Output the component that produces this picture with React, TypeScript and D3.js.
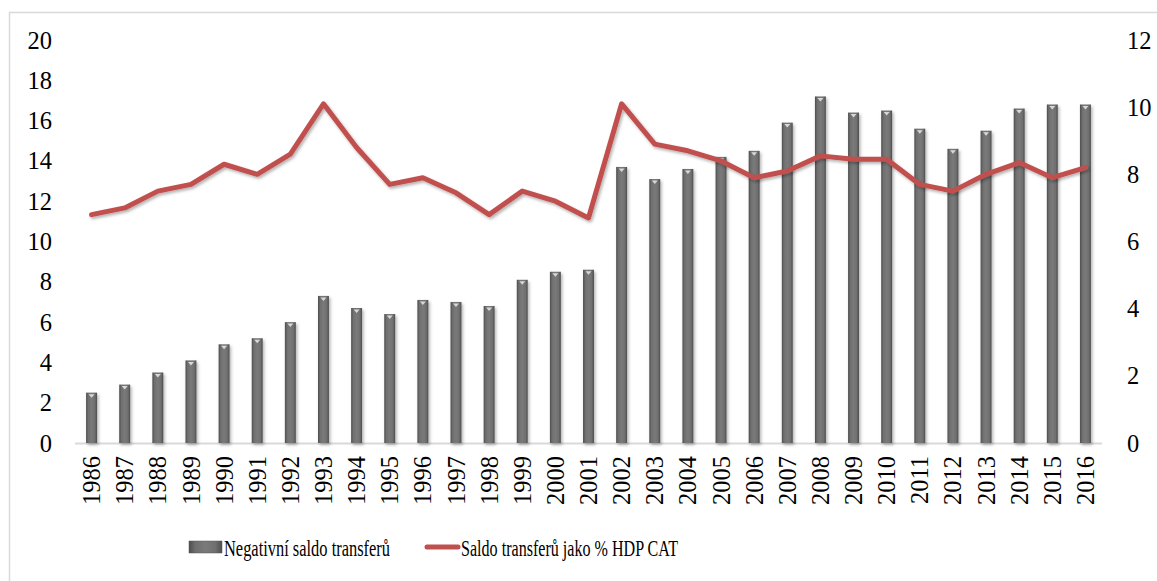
import React from 'react';
import * as d3 from 'd3';

const years = [
  '1986', '1987', '1988', '1989', '1990', '1991', '1992', '1993', '1994', '1995', '1996',
  '1997', '1998', '1999', '2000', '2001', '2002', '2003', '2004', '2005', '2006', '2007',
  '2008', '2009', '2010', '2011', '2012', '2013', '2014', '2015', '2016',
];

// Negativní saldo transferů (levá osa)
const saldo = [
  2.5, 2.9, 3.5, 4.1, 4.9, 5.2, 6.0, 7.3, 6.7, 6.4, 7.1,
  7.0, 6.8, 8.1, 8.5, 8.6, 13.7, 13.1, 13.6, 14.2, 14.5, 15.9,
  17.2, 16.4, 16.5, 15.6, 14.6, 15.5, 16.6, 16.8, 16.8,
];

// Saldo transferů jako % HDP CAT (pravá osa)
const saldoPct = [
  6.8, 7.0, 7.5, 7.7, 8.3, 8.0, 8.6, 10.1, 8.8, 7.7, 7.9,
  7.45, 6.8, 7.5, 7.2, 6.7, 10.1, 8.9, 8.7, 8.4, 7.9, 8.1,
  8.55, 8.45, 8.45, 7.7, 7.5, 8.0, 8.35, 7.9, 8.2,
];

const leftTicks = [0, 2, 4, 6, 8, 10, 12, 14, 16, 18, 20];
const rightTicks = [0, 2, 4, 6, 8, 10, 12];

const legendBar = 'Negativní saldo transferů';
const legendLine = 'Saldo transferů jako % HDP CAT';

const W = 1157;
const H = 581;
const font = '"Liberation Serif", "Times New Roman", serif';
const fs = 24.5;

export default function App() {
  const x = d3.scaleBand<string>().domain(years).range([75, 1102]).padding(0);
  const yL = d3.scaleLinear().domain([0, 20]).range([443, 40]);
  const yR = d3.scaleLinear().domain([0, 12]).range([443, 40]);
  const bw = x.step() * 0.33;
  const cx = (d: string) => (x(d) as number) + x.bandwidth() / 2;

  const line = d3
    .line<number>()
    .x((_, i) => cx(years[i]))
    .y((d) => yR(d));

  return (
    <svg width={W} height={H} style={{ position: 'absolute', left: 0, top: 0 }}>
      <defs>
        <linearGradient id="barGrad" x1="0" x2="1" y1="0" y2="0">
          <stop offset="0" stopColor="#4d4d4d" />
          <stop offset="0.2" stopColor="#6f6f6f" />
          <stop offset="0.5" stopColor="#7a7a7a" />
          <stop offset="0.8" stopColor="#6f6f6f" />
          <stop offset="1" stopColor="#4d4d4d" />
        </linearGradient>
        <filter id="shadow" x="-20%" y="-20%" width="140%" height="140%">
          <feDropShadow dx="1.5" dy="2" stdDeviation="1.5" floodColor="#000" floodOpacity="0.3" />
        </filter>
      </defs>
      <rect x={0} y={0} width={W} height={H} fill="#fff" />
      <rect x={9.5} y={12.5} width={W} height={H} fill="none" stroke="#d9d9d9" strokeWidth={1.5} />

      {/* osa x */}
      <line x1={75} x2={1102} y1={443.5} y2={443.5} stroke="#d9d9d9" strokeWidth={2} />

      {/* sloupce */}
      <g filter="url(#shadow)">
        {years.map((yr, i) => (
          <g key={yr}>
            <rect
              x={cx(yr) - bw / 2}
              y={yL(saldo[i])}
              width={bw}
              height={yL(0) - yL(saldo[i])}
              fill="url(#barGrad)"
            />
            <path
              d={`M${cx(yr) - 3},${yL(saldo[i]) + 1.5} L${cx(yr) + 3},${yL(saldo[i]) + 1.5} L${cx(yr)},${yL(saldo[i]) + 5} Z`}
              fill="#d8d8d8"
            />
          </g>
        ))}
      </g>

      {/* linie */}
      <path
        d={line(saldoPct) || ''}
        fill="none"
        stroke="#c0504d"
        strokeWidth={5}
        strokeLinejoin="round"
        strokeLinecap="round"
        filter="url(#shadow)"
      />

      {/* levá osa */}
      {leftTicks.map((t) => (
        <text key={'l' + t} x={52} y={yL(t)} dy="0.35em" textAnchor="end" fontFamily={font} fontSize={fs} fill="#000">
          {t}
        </text>
      ))}
      {/* pravá osa */}
      {rightTicks.map((t) => (
        <text key={'r' + t} x={1127} y={yR(t)} dy="0.35em" textAnchor="start" fontFamily={font} fontSize={fs} fill="#000">
          {t}
        </text>
      ))}
      {/* roky */}
      {years.map((yr) => (
        <text
          key={'y' + yr}
          transform={`translate(${cx(yr)},456) rotate(-90)`}
          dy="0.35em"
          textAnchor="end"
          fontFamily={font}
          fontSize={fs}
          fill="#000"
        >
          {yr}
        </text>
      ))}

      {/* legenda */}
      <rect x={189} y={541} width={33} height={12} fill="url(#barGrad)" stroke="#555" strokeWidth={0.5} />
      <text x={224} y={556} fontFamily={font} fontSize={24} textLength={166} lengthAdjust="spacingAndGlyphs" fill="#000">
        {legendBar}
      </text>
      <line x1={427} x2={458} y1={547} y2={547} stroke="#c0504d" strokeWidth={5} strokeLinecap="round" />
      <text x={461} y={556} fontFamily={font} fontSize={24} textLength={217} lengthAdjust="spacingAndGlyphs" fill="#000">
        {legendLine}
      </text>
    </svg>
  );
}
